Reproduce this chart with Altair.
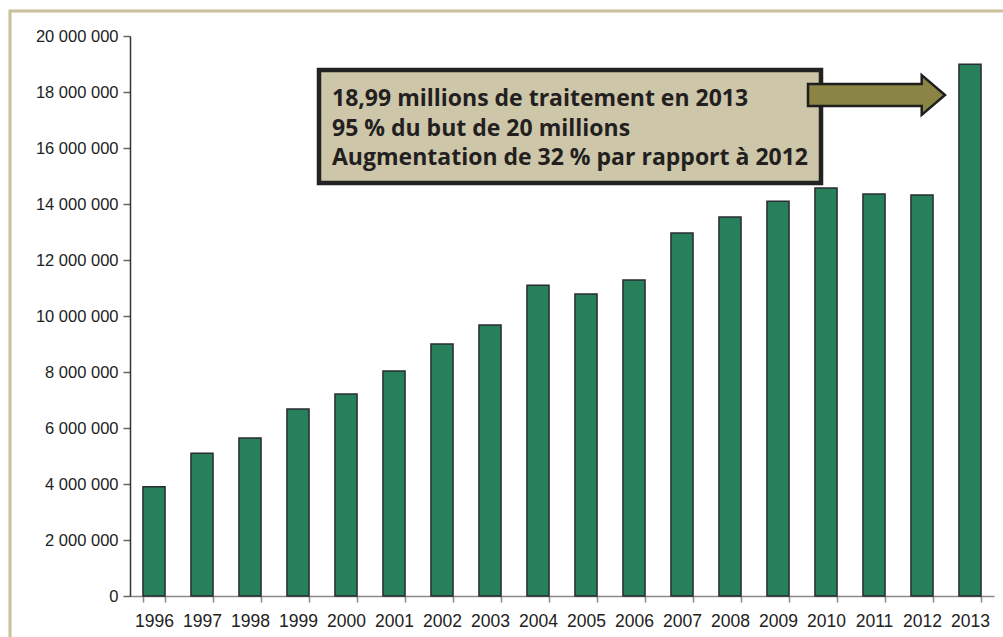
import altair as alt
import pandas as pd

years = ["1996", "1997", "1998", "1999", "2000", "2001", "2002", "2003", "2004",
         "2005", "2006", "2007", "2008", "2009", "2010", "2011", "2012", "2013"]
values = [3900000, 5100000, 5640000, 6680000, 7210000, 8040000, 9000000, 9680000,
          11100000, 10790000, 11290000, 12960000, 13540000, 14100000, 14570000,
          14360000, 14320000, 18990000]
y_ticks = [0, 2000000, 4000000, 6000000, 8000000, 10000000, 12000000, 14000000,
           16000000, 18000000, 20000000]
note_lines = ["18,99 millions de traitement en 2013",
              "95 % du but de 20 millions",
              "Augmentation de 32 % par rapport à 2012"]

df = pd.DataFrame({"year": years, "value": values})

W, H = 864, 560

frame = alt.Chart(pd.DataFrame({"a": [0]})).mark_rect(
    fillOpacity=0, stroke="#c9c09c", strokeWidth=3
).encode(x=alt.value(-120), x2=alt.value(900), y=alt.value(-25), y2=alt.value(640))

bars = alt.Chart(df).mark_bar(
    fill="#28805b", stroke="#2a2a33", strokeWidth=1.5
).encode(
    x=alt.X("year:N", sort=years, title=None,
            scale=alt.Scale(paddingInner=0.54, paddingOuter=0.27),
            axis=alt.Axis(labelAngle=0, labelFont="Liberation Sans", labelFontSize=17.5,
                          labelColor="#222", labelPadding=10, tickBand="extent",
                          tickSize=6, tickColor="#888", domainColor="#888",
                          domainWidth=1.5, tickWidth=1.5)),
    y=alt.Y("value:Q", title=None,
            scale=alt.Scale(domain=[0, 20000000], nice=False),
            axis=alt.Axis(values=y_ticks, grid=False,
                          labelExpr="replace(format(datum.value, ','), /,/g, ' ')",
                          labelFont="Liberation Sans", labelFontSize=16.5,
                          labelColor="#222", labelPadding=5, tickSize=7,
                          tickColor="#666", domainColor="#333", domainWidth=1.5,
                          tickWidth=1.5)),
)

box = alt.Chart(pd.DataFrame({"a": [0]})).mark_rect(
    fill="#cdc6a9", stroke="#222222", strokeWidth=4.5
).encode(x=alt.value(189), x2=alt.value(691), y=alt.value(34), y2=alt.value(147))

note_df = pd.DataFrame({"line": note_lines, "i": [0, 1, 2]})
note = alt.Chart(note_df).mark_text(
    align="left", baseline="middle", font="Open Sans", fontWeight="bold",
    fontSize=23, color="#231f20"
).encode(
    text="line:N",
    x=alt.value(202),
    y=alt.Y("i:Q", scale=alt.Scale(domain=[0, 2], range=[63, 122]), axis=None),
)

arrow_path = ("M -1 -0.16 L 0.66 -0.16 L 0.66 -0.29 L 1 0 L 0.66 0.29 "
              "L 0.66 0.16 L -1 0.16 Z")
arrow = alt.Chart(pd.DataFrame({"a": [0]})).mark_point(
    shape=arrow_path, size=137 * 137, filled=True, fill="#8a8445", fillOpacity=1,
    stroke="#1e1e1e", strokeWidth=2.5, opacity=1
).encode(x=alt.value(746.5), y=alt.value(59))

chart = alt.layer(frame, bars, box, note, arrow).resolve_scale(y="independent").properties(
    width=W, height=H,
    autosize=alt.AutoSizeParams(type="none"),
    padding={"left": 130, "top": 36, "right": 9, "bottom": 41},
).configure_view(stroke=None)

chart.save("out.html", embed_options={"renderer": "svg", "actions": False})
